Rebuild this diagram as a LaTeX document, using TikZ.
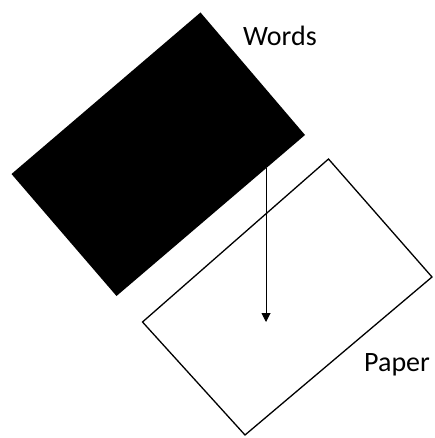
\documentclass[tikz,border=0pt]{standalone}
\usepackage{fontspec}
\setmainfont{Carlito}
\usetikzlibrary{arrows.meta}
\begin{document}
\begin{tikzpicture}[x=1pt,y=-1pt,
  label/.style={font=\fontsize{28}{30}\selectfont, inner sep=0pt, anchor=base west},
  paperbox/.style={draw=black, line width=1.3pt, line join=miter, fill=white},
  wordsbox/.style={fill=black, draw=none},
  pointer/.style={draw=black, line width=1pt, -{Triangle[width=9pt,length=9pt]}}]
\useasboundingbox (0,0) rectangle (435,438);
% black (words) rectangle
\coordinate (bt) at (200.5,12.5);
\coordinate (br) at (305,135);
\coordinate (bb) at (116.5,296);
\coordinate (bl) at (11.5,174);
\fill[wordsbox] (bt) -- (br) -- (bb) -- (bl) -- cycle;
% white (paper) rectangle
\coordinate (pt) at (328.5,159);
\coordinate (pr) at (432,277);
\coordinate (pb) at (245,435);
\coordinate (pl) at (142.5,322);
\draw[paperbox, fill=none] (pt) -- (pr) -- (pb) -- (pl) -- cycle;
% arrow
\coordinate (astart) at (266,168);
\coordinate (aend) at (266,322);
\draw[pointer] (astart) -- (aend);
% labels
\node[label] (words) at (243,46) {Words};
\node[label] (paper) at (364,371) {Paper};
\end{tikzpicture}
\end{document}
